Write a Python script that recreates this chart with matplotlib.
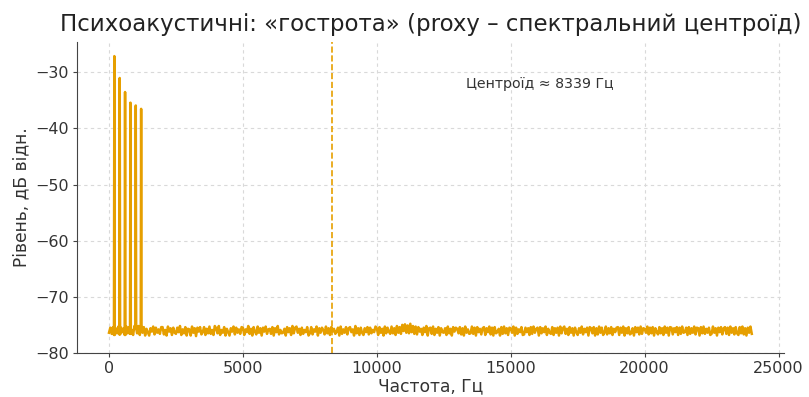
import numpy as np
import matplotlib.pyplot as plt

# spectrum: harmonic peaks over a flat noise floor
peak_freqs = [200, 400, 600, 800, 1000, 1200]
peak_levels = [-27.1, -31.0, -33.5, -35.4, -35.9, -36.5]

# noise floor, one value every 50 Hz from 0 to 24000 Hz
noise_floor = [
    -76.4, -75.5, -76.6, -75.4, -76.8, -75.6, -76.5, -75.3, -76.7, -75.5,   # 0
    -76.3, -75.6, -76.8, -75.3, -76.5, -75.4, -76.6, -75.9, -76.8, -75.2,
    -75.6, -76.5, -75.2, -76.8, -75.0, -76.4, -75.4, -76.9, -75.7, -76.3,   # 1000
    -76.9, -75.6, -76.2, -75.3, -76.7, -75.5, -76.4, -75.8, -76.6, -75.4,
    -75.4, -76.7, -75.9, -76.9, -75.3, -76.2, -75.6, -76.8, -75.5, -76.4,   # 2000
    -76.6, -75.5, -76.3, -75.2, -76.8, -75.8, -76.5, -75.4, -76.9, -75.7,
    -75.8, -76.9, -75.3, -76.4, -75.6, -77.0, -75.5, -76.2, -75.4, -76.7,   # 3000
    -76.3, -75.4, -76.8, -75.7, -76.5, -75.3, -76.6, -75.9, -76.8, -75.2,
    -75.6, -76.5, -75.2, -76.8, -75.9, -76.4, -75.4, -76.9, -75.7, -76.3,   # 4000
    -76.9, -75.6, -76.2, -75.3, -76.7, -75.5, -76.4, -75.8, -76.6, -75.4,
    -75.5, -76.8, -75.8, -76.3, -75.2, -76.6, -75.7, -76.9, -75.4, -76.2,   # 5000
    -76.7, -75.3, -76.4, -75.6, -76.9, -75.5, -76.2, -75.3, -76.6, -75.8,
    -75.7, -76.6, -75.4, -76.9, -75.6, -76.3, -75.2, -76.7, -75.9, -76.5,   # 6000
    -76.4, -75.7, -76.9, -75.4, -76.3, -75.6, -76.8, -75.2, -76.5, -75.5,
    -75.3, -76.4, -75.7, -76.8, -75.5, -76.6, -75.9, -76.3, -75.4, -76.9,   # 7000
    -76.5, -75.4, -76.7, -75.8, -76.2, -75.3, -76.9, -75.6, -76.4, -75.5,
    -75.9, -76.7, -75.3, -76.5, -75.6, -76.8, -75.4, -76.2, -75.7, -76.6,   # 8000
    -76.2, -75.5, -76.9, -75.3, -76.6, -75.8, -76.4, -75.4, -76.7, -75.6,
    -75.4, -76.3, -75.8, -76.9, -75.2, -76.5, -75.6, -76.8, -75.5, -76.4,   # 9000
    -76.8, -75.6, -76.3, -75.4, -76.7, -75.5, -76.5, -75.9, -76.3, -75.3,
    -75.6, -76.8, -75.4, -76.4, -75.7, -76.9, -75.3, -76.5, -75.5, -76.2,   # 10000
    -76.6, -75.3, -76.5, -75.6, -76.8, -75.2, -76.4, -75.4, -76.6, -75.0,
    -76.1, -74.9, -76.4, -75.1, -76.5, -74.8, -76.3, -75.2, -76.6, -75.3,   # 11000
    -76.7, -75.4, -76.2, -75.7, -76.8, -75.5, -76.3, -75.2, -76.9, -75.6,
    -75.5, -76.6, -75.3, -76.8, -75.7, -76.4, -75.4, -76.9, -75.6, -76.3,   # 12000
    -76.4, -75.6, -76.8, -75.3, -76.5, -75.7, -76.9, -75.4, -76.2, -75.5,
    -75.7, -76.5, -75.4, -76.7, -75.6, -76.9, -75.3, -76.4, -75.8, -76.6,   # 13000
    -76.5, -75.3, -76.6, -75.5, -76.9, -75.4, -76.3, -75.7, -76.7, -75.6,
    -75.4, -76.8, -75.6, -76.3, -75.3, -76.7, -75.5, -76.9, -75.4, -76.5,   # 14000
    -76.3, -75.7, -76.9, -75.4, -76.6, -75.3, -76.5, -75.6, -76.8, -75.5,
    -75.6, -76.4, -75.3, -76.9, -75.5, -76.6, -75.8, -76.3, -75.4, -76.8,   # 15000
    -76.7, -75.5, -76.3, -75.6, -76.8, -75.4, -76.6, -75.3, -76.4, -75.7,
    -75.5, -76.9, -75.4, -76.5, -75.6, -76.3, -75.3, -76.8, -75.7, -76.4,   # 16000
    -76.6, -75.4, -76.8, -75.6, -76.4, -75.5, -76.9, -75.3, -76.5, -75.6,
    -75.3, -76.6, -75.7, -76.8, -75.4, -76.4, -75.6, -76.9, -75.5, -76.3,   # 17000
    -76.8, -75.6, -76.4, -75.3, -76.7, -75.7, -76.3, -75.5, -76.9, -75.4,
    -75.6, -76.5, -75.4, -76.9, -75.6, -76.7, -75.3, -76.4, -75.5, -76.8,   # 18000
    -76.4, -75.3, -76.7, -75.6, -76.5, -75.4, -76.8, -75.7, -76.3, -75.5,
    -75.4, -76.8, -75.5, -76.4, -75.3, -76.9, -75.6, -76.5, -75.4, -76.7,   # 19000
    -76.5, -75.6, -76.9, -75.4, -76.3, -75.5, -76.7, -75.3, -76.6, -75.6,
    -75.7, -76.4, -75.3, -76.7, -75.5, -76.5, -75.4, -76.9, -75.6, -76.3,   # 20000
    -76.7, -75.4, -76.5, -75.6, -76.8, -75.3, -76.4, -75.5, -76.9, -75.4,
    -75.5, -76.7, -75.6, -76.3, -75.4, -76.8, -75.5, -76.6, -75.3, -76.4,   # 21000
    -76.3, -75.5, -76.8, -75.4, -76.6, -75.6, -76.4, -75.3, -76.7, -75.5,
    -75.6, -76.9, -75.4, -76.5, -75.3, -76.6, -75.7, -76.4, -75.5, -76.8,   # 22000
    -76.6, -75.3, -76.4, -75.6, -76.9, -75.5, -76.3, -75.4, -76.7, -75.6,
    -75.4, -76.6, -75.5, -76.8, -75.3, -76.4, -75.6, -76.7, -75.4, -76.5,   # 23000
    -76.8, -75.4, -76.5, -75.3, -76.7, -75.6, -76.9, -75.5, -76.4, -75.3,
    -76.6,
]
grid_step = 50
centroid = 8339

freqs = []
levels = []
for i, lvl in enumerate(noise_floor):
    f = i * grid_step
    if f in peak_freqs:
        p = peak_levels[peak_freqs.index(f)]
        freqs += [f - 15, f, f + 15]
        levels += [lvl, p, lvl]
    else:
        freqs.append(f)
        levels.append(lvl)

orange = "#E69F00"

fig = plt.figure(figsize=(8.09, 3.97), dpi=100)
ax = fig.add_axes([0.095, 0.111, 0.874, 0.783])

ax.plot(freqs, levels, color=orange, linewidth=1.8)
ax.axvline(centroid, color=orange, linestyle="--", linewidth=1.2)
ax.text(centroid * 1.6, -32, f"Центроїд ≈ {centroid} Гц", fontsize=10.2,
        color="#333333", ha="left", va="center")

ax.set_xlim(-1200, 25200)
ax.set_ylim(-80, -24.6)
ax.set_xticks([0, 5000, 10000, 15000, 20000, 25000])
ax.set_yticks([-80, -70, -60, -50, -40, -30])

ax.grid(True, linestyle=(0, (3, 3)), color="#d9d9d9", linewidth=0.8)
ax.set_axisbelow(True)
for side in ["top", "right"]:
    ax.spines[side].set_visible(False)
for side in ["left", "bottom"]:
    ax.spines[side].set_color("#444444")
ax.tick_params(colors="#444444", labelcolor="#333333", labelsize=11.5,
               length=3, pad=2.5)

ax.set_title("Психоакустичні: «гострота» (proxy – спектральний центроїд)",
             fontsize=16.5, color="#222222", pad=8)
ax.set_xlabel("Частота, Гц", fontsize=12.3, color="#333333", labelpad=1)
ax.set_ylabel("Рівень, дБ відн.", fontsize=12.3, color="#333333")

fig.savefig("out.png", dpi=100)
